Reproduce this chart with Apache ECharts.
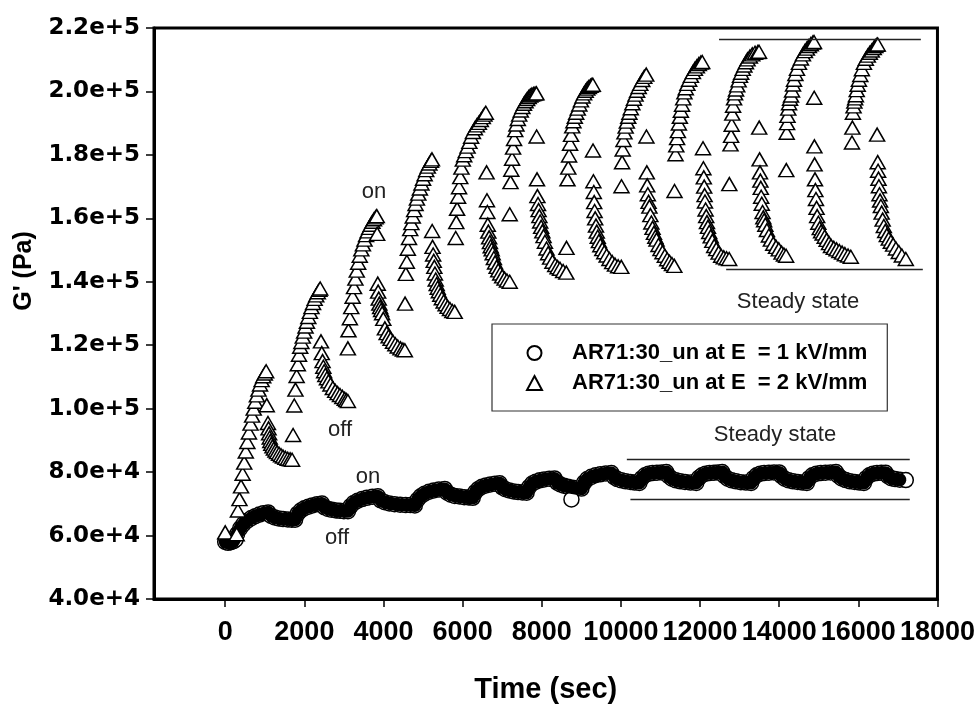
<!DOCTYPE html>
<html>
<head>
<meta charset="utf-8">
<script src="https://cdn.jsdelivr.net/npm/echarts@6/dist/echarts.min.js"></script>
<style>
  html, body { margin: 0; padding: 0; background: #fff; }
  #chart { width: 978px; height: 709px; }
</style>
</head>
<body>
<div id="chart"></div>
<script>
// axis ticks
const xTicks = [0, 2000, 4000, 6000, 8000, 10000, 12000, 14000, 16000, 18000];

const nameE1 = 'AR71:30_un at E  = 1 kV/mm';
const nameE2 = 'AR71:30_un at E  = 2 kV/mm';

// E = 2 kV/mm, [time (s), G' (Pa)], field on / field off phases
const triOn1 = [[0,61000],[290,60400],[320,67900],[360,71500],[400,75500],[440,79500],[480,83000],[520,86500],[560,89500],[600,92500],[640,95300],[680,97800],[720,100000],[760,102200],[800,104200],[840,106000],[880,107600],[920,109000],[960,110200],[1000,111100],[1034,111800]];
const triOff1 = [[1050,101100],[1080,95500],[1095,93800],[1110,92200],[1125,90900],[1140,89800],[1165,88900],[1195,88100],[1230,87400],[1270,86800],[1310,86300],[1360,85800],[1410,85300],[1460,84900],[1520,84500],[1580,84200],[1640,84000],[1690,83900]];
const triOn2 = [[1715,91700],[1745,101000],[1775,106000],[1805,110300],[1835,114000],[1865,117000],[1895,119500],[1925,121000],[1960,122700],[1995,124300],[2030,125900],[2065,127400],[2100,128900],[2140,130500],[2180,132000],[2220,133300],[2260,134600],[2300,135700],[2340,136700],[2380,137500],[2400,137900]];
const triOff2 = [[2420,121200],[2440,117500],[2460,115000],[2480,113200],[2500,111800],[2530,110600],[2570,109600],[2610,108600],[2660,107600],[2720,106500],[2780,105600],[2840,104900],[2900,104300],[2960,103700],[3020,103100],[3060,102700],[3100,102400]];
const triOn3 = [[3100,119000],[3115,124700],[3150,128500],[3185,132000],[3220,135300],[3255,138300],[3290,141000],[3325,143500],[3360,146000],[3400,148200],[3440,150200],[3480,151800],[3520,153300],[3560,154700],[3600,155900],[3640,157000],[3680,158000],[3720,158900],[3760,159700],[3800,160300],[3830,160700]];
const triOff3 = [[3840,155100],[3855,139400],[3865,136900],[3880,134700],[3895,133100],[3915,132000],[3940,131100],[3965,130100],[3995,128300],[4035,125300],[4080,123800],[4130,122800],[4180,122000],[4240,121100],[4300,120300],[4360,119600],[4430,119000],[4490,118600],[4540,118400]];
const triOn4 = [[4545,133100],[4565,142500],[4590,146300],[4615,150400],[4645,153800],[4675,156600],[4705,158500],[4740,160600],[4775,162600],[4810,164500],[4845,166200],[4880,167800],[4920,169400],[4960,171000],[5000,172500],[5040,173900],[5080,175200],[5120,176300],[5160,177300],[5200,178100],[5225,178600]];
const triOff4 = [[5230,156000],[5240,151000],[5255,148600],[5270,146600],[5285,144700],[5300,142600],[5320,140700],[5345,139300],[5370,138100],[5400,137000],[5435,135900],[5475,134800],[5520,133800],[5570,132900],[5620,132100],[5680,131400],[5740,130800],[5800,130500]];
const triOn5 = [[5825,153800],[5840,158800],[5860,163000],[5885,166800],[5910,169800],[5940,173000],[5970,176000],[6005,178500],[6040,179900],[6080,181200],[6125,182600],[6170,184100],[6215,185700],[6260,187200],[6310,188400],[6360,189300],[6410,190100],[6460,191000],[6510,191900],[6550,192700],[6585,193300]];
const triOff5 = [[6605,174500],[6615,165700],[6625,162000],[6635,158000],[6650,155800],[6670,154000],[6690,152500],[6710,151200],[6735,150200],[6760,149000],[6790,147500],[6820,146100],[6860,144700],[6900,143600],[6950,142600],[7000,141700],[7060,141000],[7120,140400],[7190,140000]];
const triOn6 = [[7190,161300],[7210,171400],[7230,175300],[7250,178800],[7275,182300],[7300,185000],[7330,187800],[7360,189600],[7395,191300],[7430,192700],[7470,194000],[7510,195100],[7550,196100],[7590,196900],[7630,197600],[7670,198200],[7710,198700],[7750,199000],[7790,199200],[7830,199300],[7865,199400]];
const triOff6 = [[7870,185800],[7880,172300],[7890,167000],[7905,164500],[7920,162600],[7940,160700],[7960,159000],[7985,157300],[8015,155900],[8045,154400],[8080,152600],[8120,150500],[8160,149000],[8210,147600],[8270,146300],[8340,145300],[8400,144600],[8460,144100],[8540,143400],[8620,142900]];
const triOn7 = [[8625,150700],[8650,172300],[8670,176000],[8690,179800],[8715,183500],[8740,186300],[8770,189000],[8800,190600],[8835,192000],[8870,193300],[8910,194600],[8950,195900],[8990,197200],[9030,198400],[9070,199400],[9110,200200],[9150,200900],[9190,201400],[9230,201800],[9265,202000],[9290,202100]];
const triOff7 = [[9295,181400],[9305,171700],[9315,168300],[9325,165100],[9335,162300],[9350,160000],[9370,157700],[9390,155800],[9415,154200],[9445,152800],[9480,151500],[9530,150300],[9580,149300],[9640,148300],[9710,147200],[9780,146200],[9850,145400],[9930,144900],[10010,144700]];
const triOn8 = [[10015,170100],[10030,177700],[10045,181700],[10065,184700],[10090,187100],[10120,188900],[10150,190500],[10185,192000],[10215,193300],[10250,194700],[10290,196300],[10330,197700],[10370,199000],[10410,200200],[10450,201400],[10490,202400],[10540,203600],[10590,204600],[10640,205300]];
const triOff8 = [[10645,185800],[10655,174500],[10665,170400],[10680,167600],[10700,165200],[10720,163700],[10745,161000],[10770,158700],[10800,157000],[10835,155400],[10870,154200],[10900,153300],[10950,151600],[11000,150300],[11050,149300],[11110,148200],[11170,147100],[11230,146300],[11290,145600],[11350,145000]];
const triOn9 = [[11355,168600],[11380,180200],[11400,183000],[11420,185300],[11440,187500],[11465,189900],[11490,192000],[11515,193900],[11545,195800],[11575,197800],[11605,199700],[11640,201000],[11680,202400],[11725,203700],[11770,204900],[11820,206100],[11870,207100],[11920,207900],[11970,208600],[12020,209100],[12055,209300]];
const triOff9 = [[12075,182100],[12085,175800],[12095,172900],[12105,170000],[12115,167300],[12125,165300],[12140,162800],[12156,160700],[12175,158800],[12200,157300],[12232,155700],[12270,154300],[12310,152900],[12358,151300],[12410,150300],[12470,149200],[12534,148200],[12600,147700],[12670,147400],[12736,147200]];
const triOn10 = [[12740,170800],[12770,183300],[12785,186000],[12800,189500],[12815,193000],[12835,195500],[12860,197800],[12885,199400],[12910,200600],[12940,201900],[12975,203500],[13010,204900],[13040,205900],[13080,207100],[13120,208200],[13160,209200],[13200,210100],[13260,211000],[13320,211700],[13390,212200],[13460,212400],[13490,212500]];
const triOff10 = [[13495,188600],[13505,178600],[13515,174500],[13525,171900],[13535,169600],[13545,166800],[13560,164600],[13580,162000],[13600,160300],[13620,159400],[13650,158000],[13690,156300],[13740,154600],[13790,153300],[13850,152000],[13920,151000],[13990,150200],[14060,149200],[14120,148600],[14175,148200]];
const triOn11 = [[14180,175200],[14190,187000],[14200,190000],[14210,192300],[14230,194600],[14250,196300],[14275,197700],[14300,198700],[14325,200300],[14350,202200],[14375,203700],[14410,205500],[14450,207100],[14500,209000],[14550,210400],[14600,211700],[14650,212700],[14700,213500],[14750,214300],[14800,214900],[14850,215400],[14880,215600]];
const triOff11 = [[14885,198000],[14890,182700],[14895,177000],[14905,172300],[14915,168900],[14930,166100],[14945,163300],[14960,160700],[14990,158600],[15025,156900],[15060,155900],[15100,155200],[15150,154200],[15200,153200],[15260,152200],[15310,151300],[15380,150700],[15450,150200],[15520,149700],[15590,149200],[15660,148700],[15740,148300],[15810,147900]];
const triOn12 = [[15840,183900],[15850,188600],[15863,193300],[15880,195300],[15900,196800],[15920,197800],[15939,198800],[15960,200400],[15985,202100],[16015,203700],[16050,205200],[16090,207000],[16141,209000],[16190,210300],[16240,211300],[16290,212200],[16340,212900],[16390,213700],[16430,214300],[16470,214700],[16490,214800]];
const triOff12 = [[16475,186400],[16490,177700],[16500,175000],[16510,172500],[16520,170100],[16535,167600],[16550,165600],[16570,163900],[16590,161800],[16615,159600],[16645,157600],[16680,156000],[16720,154700],[16770,153600],[16822,152600],[16880,151700],[16950,150500],[17024,149400],[17100,148300],[17200,147200]];

// E = 1 kV/mm, [time (s), G' (Pa)]
const circStart = [[0,58000],[70,57700],[140,57900],[210,58200],[260,58700]];
const circ1 = [[300,60500],[380,62300],[460,63600],[560,64700],[660,65500],[760,66100],[860,66600],[960,67000],[1085,67300],[1160,66200],[1250,65700],[1350,65400],[1460,65200],[1580,65100],[1680,65000],[1766,65000]];
const circ2 = [[1830,66900],[1910,67900],[2000,68600],[2100,69100],[2200,69500],[2320,69900],[2446,70100],[2510,68900],[2600,68400],[2700,68100],[2800,67900],[2900,67800],[3000,67700],[3102,67700]];
const circ3 = [[3170,69300],[3250,70300],[3350,71000],[3460,71500],[3580,71900],[3720,72200],[3858,72400],[3930,71100],[4030,70500],[4150,70100],[4280,69900],[4420,69700],[4560,69600],[4680,69600],[4792,69500]];
const circ4 = [[4860,71300],[4940,72400],[5040,73200],[5150,73800],[5270,74200],[5400,74500],[5548,74700],[5610,73500],[5700,72900],[5800,72500],[5920,72300],[6040,72100],[6150,72000],[6255,71900]];
const circ5 = [[6320,73700],[6400,74700],[6490,75400],[6590,75800],[6700,76100],[6820,76300],[6936,76500],[7000,75200],[7080,74600],[7180,74200],[7290,73900],[7400,73700],[7510,73600],[7617,73500]];
const circ6 = [[7680,75300],[7760,76400],[7850,77000],[7950,77400],[8060,77700],[8190,77900],[8323,78000],[8390,76700],[8470,76100],[8560,75700],[8660,75400],[8780,75100],[8890,74900],[9003,74800]];
const circOutlier = [[8750,71400]];
const circ7 = [[9070,76700],[9150,77800],[9250,78500],[9360,79000],[9480,79300],[9620,79600],[9760,79700],[9830,78400],[9910,77800],[10010,77400],[10120,77100],[10240,76900],[10350,76700],[10466,76600]];
const circ8 = [[10530,78100],[10610,79000],[10700,79500],[10800,79700],[10910,79800],[11030,79900],[11147,80000],[11210,78700],[11290,77900],[11390,77400],[11500,77100],[11620,76900],[11760,76700],[11904,76600]];
const circ9 = [[11970,78200],[12050,79000],[12140,79500],[12240,79700],[12350,79800],[12450,79900],[12560,80000],[12620,78700],[12700,77900],[12800,77400],[12910,77100],[13030,76800],[13160,76700],[13290,76600]];
const circ10 = [[13350,78100],[13430,79000],[13520,79500],[13620,79700],[13740,79800],[13870,79900],[14000,79900],[14060,78700],[14140,77900],[14240,77400],[14350,77100],[14470,76900],[14590,76700],[14700,76600]];
const circ11 = [[14760,78100],[14840,79000],[14940,79500],[15050,79700],[15170,79800],[15300,79900],[15435,80000],[15500,78800],[15580,78000],[15680,77500],[15790,77100],[15910,76900],[16030,76700],[16141,76600]];
const circ12 = [[16200,78100],[16280,79000],[16370,79500],[16470,79700],[16580,79800],[16690,79800],[16750,78700],[16830,78100],[16930,77800],[17050,77600],[17200,77500]];

// "steady state" guide lines: [t start, t end, G']
const steadyHigh = [[12480, 17580, 216600], [12660, 17630, 143900]];
const steadyLow = [[10150, 17300, 84200], [10240, 17300, 71450]];

const triData = [].concat(triOn1, triOff1, triOn2, triOff2, triOn3, triOff3, triOn4, triOff4,
  triOn5, triOff5, triOn6, triOff6, triOn7, triOff7, triOn8, triOff8,
  triOn9, triOff9, triOn10, triOff10, triOn11, triOff11, triOn12, triOff12);
const circBand = [].concat(circStart, circ1, circ2, circ3, circ4, circ5, circ6,
  circ7, circ8, circ9, circ10, circ11, circ12);
const circData = circBand.concat(circOutlier);

const guide = rows => rows.map(r => [{ coord: [r[0], r[2]] }, { coord: [r[1], r[2]] }]);

const FONT = '"Liberation Sans", Arial, sans-serif';

const chart = echarts.init(document.getElementById('chart'));
chart.setOption({
  animation: false,
  backgroundColor: '#fff',
  grid: {
    left: 154, right: 40, top: 28, bottom: 107,
    show: true, borderColor: '#000', borderWidth: 3, backgroundColor: 'transparent'
  },
  legend: {
    orient: 'vertical',
    left: 492, top: 324,
    padding: [18, 20, 17, 34],
    itemGap: 8,
    itemWidth: 15, itemHeight: 14,
    borderColor: '#333', borderWidth: 1.2,
    selectedMode: false,
    data: [nameE1, nameE2],
    textStyle: { fontFamily: FONT, fontWeight: 'bold', fontSize: 22, color: '#000', padding: [0, 0, 0, 25] }
  },
  xAxis: {
    type: 'value',
    min: -1800, max: 18000,
    splitLine: { show: false },
    axisLine: { show: true, onZero: false, lineStyle: { color: '#000', width: 3 } },
    axisTick: { show: true, customValues: xTicks, length: 8, lineStyle: { color: '#000', width: 1.5 } },
    axisLabel: {
      customValues: xTicks, showMaxLabel: true,
      fontFamily: FONT, fontWeight: 'bold', fontSize: 27, color: '#000', margin: 20,
      formatter: v => String(v)
    },
    name: 'Time (sec)', nameLocation: 'middle', nameGap: 76,
    nameTextStyle: { fontFamily: FONT, fontWeight: 'bold', fontSize: 29, color: '#000' }
  },
  yAxis: {
    type: 'value',
    min: 40000, max: 220000, interval: 20000,
    splitLine: { show: false },
    axisLine: { show: true, onZero: false, lineStyle: { color: '#000', width: 3 } },
    axisTick: { show: true, length: 8, lineStyle: { color: '#000', width: 1.5 } },
    axisLabel: {
      fontFamily: '"DejaVu Sans", sans-serif', fontWeight: 'bold', fontSize: 23, color: '#000', margin: 14,
      formatter: v => v.toExponential(1)
    }
  },
  graphic: [
    { type: 'text', x: 24, y: 271, rotation: Math.PI / 2,
      style: { text: "G' (Pa)", font: 'bold 25px ' + FONT, fill: '#000', align: 'center', verticalAlign: 'middle' } },
    { type: 'text', x: 374, y: 192, style: { text: 'on', font: '22px ' + FONT, fill: '#222', align: 'center', verticalAlign: 'middle' } },
    { type: 'text', x: 340, y: 430, style: { text: 'off', font: '22px ' + FONT, fill: '#222', align: 'center', verticalAlign: 'middle' } },
    { type: 'text', x: 368, y: 477, style: { text: 'on', font: '22px ' + FONT, fill: '#222', align: 'center', verticalAlign: 'middle' } },
    { type: 'text', x: 337, y: 538, style: { text: 'off', font: '22px ' + FONT, fill: '#222', align: 'center', verticalAlign: 'middle' } },
    { type: 'text', x: 798, y: 302, style: { text: 'Steady state', font: '22px ' + FONT, fill: '#222', align: 'center', verticalAlign: 'middle' } },
    { type: 'text', x: 775, y: 435, style: { text: 'Steady state', font: '22px ' + FONT, fill: '#222', align: 'center', verticalAlign: 'middle' } }
  ],
  series: [
    {
      name: nameE1,
      type: 'scatter',
      data: circData,
      symbol: 'circle',
      symbolSize: 15,
      z: 2,
      itemStyle: { color: '#fff', borderColor: '#000', borderWidth: 1.5, opacity: 1 },
      markLine: {
        silent: true, symbol: ['none', 'none'], label: { show: false },
        lineStyle: { color: '#222', width: 1.3, type: 'solid' },
        data: guide(steadyLow)
      }
    },
    {
      name: 'band',
      type: 'line',
      data: circBand.slice(0, -1),
      symbol: 'none',
      silent: true,
      z: 3,
      lineStyle: { color: '#000', width: 13, cap: 'round', join: 'round' }
    },
    {
      name: nameE2,
      type: 'scatter',
      data: triData,
      symbol: 'triangle',
      symbolSize: [15, 13],
      z: 4,
      itemStyle: { color: '#fff', borderColor: '#000', borderWidth: 1.5, opacity: 1 },
      markLine: {
        silent: true, symbol: ['none', 'none'], label: { show: false },
        lineStyle: { color: '#222', width: 1.3, type: 'solid' },
        data: guide(steadyHigh)
      }
    }
  ]
});
</script>
</body>
</html>
